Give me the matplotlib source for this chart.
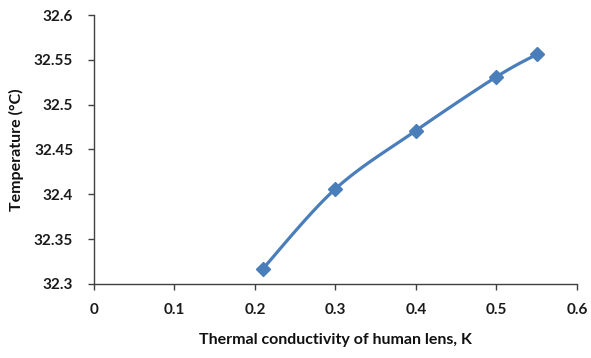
import numpy as np
import matplotlib
matplotlib.use("Agg")
import matplotlib.pyplot as plt

conductivity = [0.21, 0.30, 0.40, 0.50, 0.55]
temperature = [32.317, 32.406, 32.471, 32.531, 32.556]
x_ticks = [0, 0.1, 0.2, 0.3, 0.4, 0.5, 0.6]
y_ticks = [32.3, 32.35, 32.4, 32.45, 32.5, 32.55, 32.6]

plt.rcParams['font.family'] = ['Lato', 'DejaVu Sans']

def smooth(xs, ys, n=30):
    # Catmull-Rom style Bezier smoothing (like Excel's smoothed line)
    xs = np.asarray(xs, float); ys = np.asarray(ys, float)
    px = np.concatenate([[xs[0]], xs, [xs[-1]]])
    py = np.concatenate([[ys[0]], ys, [ys[-1]]])
    outx, outy = [], []
    t = np.linspace(0, 1, n)
    for i in range(1, len(px) - 2):
        p0 = np.array([px[i], py[i]]); p3 = np.array([px[i+1], py[i+1]])
        p1 = p0 + (np.array([px[i+1], py[i+1]]) - np.array([px[i-1], py[i-1]])) / 6
        p2 = p3 - (np.array([px[i+2], py[i+2]]) - np.array([px[i], py[i]])) / 6
        b = ((1-t)**3)[:, None]*p0 + (3*(1-t)**2*t)[:, None]*p1 + (3*(1-t)*t**2)[:, None]*p2 + (t**3)[:, None]*p3
        outx.extend(b[:, 0]); outy.extend(b[:, 1])
    return outx, outy

fig = plt.figure(figsize=(5.91, 3.58), dpi=100)
ax = fig.add_axes([0.159, 0.207, 0.817, 0.751])

sx, sy = smooth(conductivity, temperature)
color = '#4A7EBB'
ax.plot(sx, sy, color=color, lw=2.3, solid_capstyle='round')
ax.plot(conductivity, temperature, linestyle='none', marker='D', markersize=7,
        color=color, markeredgecolor=color)

ax.set_xlim(0, 0.6)
ax.set_ylim(32.3, 32.6)
ax.set_xticks(x_ticks)
ax.set_xticklabels([f"{v:g}" for v in x_ticks])
ax.set_yticks(y_ticks)
ax.set_yticklabels([f"{v:g}" for v in y_ticks])

for s in ['top', 'right']:
    ax.spines[s].set_visible(False)
for s in ['left', 'bottom']:
    ax.spines[s].set_color('#404040')
    ax.spines[s].set_linewidth(1.0)

ax.tick_params(axis='both', direction='out', length=4, width=1, color='#404040',
               labelsize=11, labelcolor='#1a1a1a')
ax.tick_params(axis='x', pad=10)
ax.tick_params(axis='y', pad=11)
for lab in ax.get_xticklabels() + ax.get_yticklabels():
    lab.set_fontweight('bold')

ax.set_xlabel('Thermal conductivity of human lens, K', fontsize=11.5, fontweight='bold',
              labelpad=11, color='#111111')
ax.set_ylabel('Temperature (°C)', fontsize=11.5, fontweight='bold', labelpad=7, color='#111111')

fig.savefig('out.png', dpi=100)
